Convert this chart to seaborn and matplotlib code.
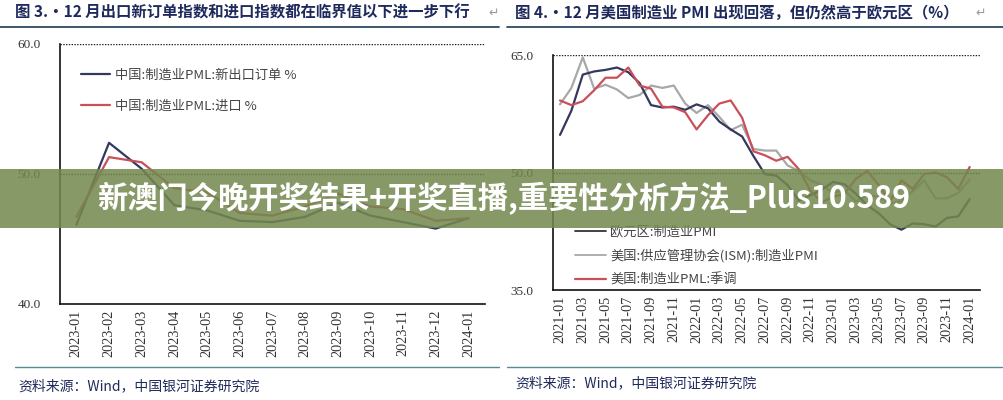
import numpy as np
import pandas as pd
import matplotlib
matplotlib.use("Agg")
import matplotlib.pyplot as plt
from matplotlib.lines import Line2D
from matplotlib.patches import Rectangle
import seaborn as sns

sns.set_theme(style="white")
CJK = ["Noto Sans CJK SC", "DejaVu Sans"]
SERIF = ["Liberation Serif", "DejaVu Serif"]
plt.rcParams["font.family"] = CJK

# ---- données ----
mois_gauche = ["2023-01", "2023-02", "2023-03", "2023-04", "2023-05", "2023-06", "2023-07",
               "2023-08", "2023-09", "2023-10", "2023-11", "2023-12", "2024-01"]
export_commandes = [46.1, 52.4, 50.4, 47.6, 47.2, 46.4, 46.3, 46.7, 47.8, 46.8, 46.3, 45.8, 46.6]
importations = [46.7, 51.3, 50.9, 48.9, 48.6, 47.0, 46.8, 47.5, 48.5, 47.5, 47.3, 46.4, 46.6]

mois_droite = [f"{a}-{m:02d}" for a in (2021, 2022, 2023) for m in range(1, 13)] + ["2024-01"]
pmi_eurozone = [54.8, 57.9, 62.5, 62.9, 63.1, 63.4, 62.8, 61.4, 58.6, 58.3, 58.4, 58.0,
                58.7, 58.2, 56.5, 55.5, 54.6, 52.1, 49.8, 49.6, 48.4, 46.4, 47.1, 47.8,
                48.8, 48.5, 47.3, 45.8, 44.8, 43.4, 42.7, 43.5, 43.4, 43.1, 44.2, 44.4,
                46.6]
pmi_ism = [58.7, 60.8, 64.7, 60.7, 61.2, 60.6, 59.5, 59.9, 61.1, 60.8, 61.1, 58.8,
           57.6, 58.6, 57.1, 55.4, 56.1, 53.0, 52.8, 52.8, 50.9, 50.2, 49.0, 48.4,
           47.4, 47.7, 46.3, 47.1, 46.9, 46.0, 46.4, 47.6, 49.0, 46.7, 46.7, 47.4,
           49.1]
pmi_us_sa = [59.2, 58.6, 59.1, 60.5, 62.1, 62.1, 63.4, 61.1, 60.7, 58.4, 58.3, 57.7,
             55.5, 57.3, 58.8, 59.2, 57.0, 52.7, 52.2, 51.5, 52.0, 50.4, 47.7, 46.2,
             46.9, 47.3, 49.2, 50.2, 48.4, 46.3, 49.0, 47.9, 49.8, 50.0, 49.4, 47.9,
             50.7]

lab_g = ["中国:制造业PML:新出口订单 %", "中国:制造业PML:进口 %"]
lab_d = ["欧元区:制造业PMI", "美国:供应管理协会(ISM):制造业PMI", "美国:制造业PML:季调"]

NAVY = "#34385e"
RED = "#c9505a"
GRAY = "#a8a8a8"
TITRE = "#1f2a5c"

fig = plt.figure(figsize=(10.04, 4.0), dpi=100)
fig.patch.set_facecolor("white")


def style_axe(ax, ticks_y, ylim, xlim):
    ax.set_ylim(*ylim)
    ax.set_xlim(*xlim)
    for s in ["top", "right"]:
        ax.spines[s].set_visible(False)
    for s in ["left", "bottom"]:
        ax.spines[s].set_color("#111111")
        ax.spines[s].set_linewidth(1.2)
    ax.set_yticks(ticks_y)
    ax.set_yticklabels([f"{v:.1f}" for v in ticks_y], fontfamily=SERIF, fontsize=9.5, color="#333333")
    ax.tick_params(axis="y", length=0, pad=14)
    ax.tick_params(axis="x", which="major", length=0, pad=4)
    ax.tick_params(axis="x", which="minor", length=4, width=1.2, direction="in", color="#111111")
    for v in ticks_y[1:]:
        ax.axhline(v, xmin=0, xmax=1, color="#222222", lw=1.0, ls=(0, (1, 1)), zorder=0)
    ax.set_xlabel("")
    ax.set_ylabel("")


# ---- panneau gauche ----
axg = fig.add_axes([0.0598, 0.24, 0.423, 0.65])
df_g = pd.DataFrame({"i": np.arange(len(mois_gauche)), "exp": export_commandes, "imp": importations})
sns.lineplot(data=df_g, x="i", y="exp", ax=axg, color=NAVY, lw=1.6)
sns.lineplot(data=df_g, x="i", y="imp", ax=axg, color=RED, lw=1.6)
style_axe(axg, [40, 50, 60], (40, 60), (-0.5, 12.45))
axg.set_xticks(np.arange(len(mois_gauche)))
axg.set_xticklabels(mois_gauche, rotation=90, fontfamily=SERIF, fontsize=10.3, color="#333333")
axg.set_xticks(np.arange(0.5, len(mois_gauche), 1), minor=True)
hg = [Line2D([0], [0], color=NAVY, lw=1.6), Line2D([0], [0], color=RED, lw=1.6)]
axg.legend(hg, lab_g, loc="upper left", bbox_to_anchor=(0.033, 0.93), frameon=False,
           fontsize=9.5, handlelength=2.2, handletextpad=0.4, labelspacing=1.35,
           borderpad=0, labelcolor="#444444")

# ---- panneau droit ----
axd = fig.add_axes([0.551, 0.275, 0.425, 0.5875])
df_d = pd.DataFrame({"i": np.arange(len(mois_droite)), "ez": pmi_eurozone, "ism": pmi_ism, "us": pmi_us_sa})
sns.lineplot(data=df_d, x="i", y="ism", ax=axd, color=GRAY, lw=1.6)
sns.lineplot(data=df_d, x="i", y="ez", ax=axd, color=NAVY, lw=1.6)
sns.lineplot(data=df_d, x="i", y="us", ax=axd, color=RED, lw=1.6)
style_axe(axd, [35, 50, 65], (35, 65), (-0.6, 36.9))
axd.set_xticks(np.arange(0, len(mois_droite), 2))
axd.set_xticklabels(mois_droite[::2], rotation=90, fontfamily=SERIF, fontsize=10.3, color="#333333")
axd.set_xticks(np.arange(1.5, len(mois_droite), 2), minor=True)
hd = [Line2D([0], [0], color="#333333", lw=1.3), Line2D([0], [0], color=GRAY, lw=1.3),
      Line2D([0], [0], color=RED, lw=1.6)]
axd.legend(hd, lab_d, loc="lower left", bbox_to_anchor=(0.035, -0.012), frameon=False,
           fontsize=9.5, handlelength=2.4, handletextpad=0.3, labelspacing=0.8,
           borderpad=0, labelcolor="#444444")

# ---- titres, filets, sources ----
fig.text(0.015, 0.968, "图 3.·12 月出口新订单指数和进口指数都在临界值以下进一步下行", fontsize=11.1,
         fontweight="bold", color=TITRE, va="center", ha="left")
fig.text(0.513, 0.968, "图 4.·12 月美国制造业 PMI 出现回落，但仍然高于欧元区（%）", fontsize=11.1,
         fontweight="bold", color=TITRE, va="center", ha="left")
fig.text(0.486, 0.966, "↵", fontsize=9, color="#999999", va="center", family=["DejaVu Sans"])
fig.text(0.972, 0.966, "↵", fontsize=9, color="#999999", va="center", family=["DejaVu Sans"])
fig.add_artist(Line2D([0.0, 0.497], [0.932, 0.932], color="#2b4a5e", lw=1.3))
fig.add_artist(Line2D([0.505, 1.0], [0.932, 0.932], color="#2b4a5e", lw=1.3))
fig.add_artist(Line2D([0.015, 0.497], [0.083, 0.083], color="#5a8a96", lw=1.0))
fig.add_artist(Line2D([0.505, 0.998], [0.083, 0.083], color="#5a8a96", lw=1.0))
fig.text(0.018, 0.035, "资料来源：Wind，中国银河证券研究院", fontsize=10, color=TITRE,
         va="center", ha="left", style="italic")
fig.text(0.513, 0.042, "资料来源：Wind，中国银河证券研究院", fontsize=10, color=TITRE,
         va="center", ha="left", style="italic")

# ---- bandeau superposé ----
fig.add_artist(Rectangle((0, 0.43), 1, 0.148, transform=fig.transFigure,
                         facecolor="#74884f", alpha=0.86, edgecolor="none", zorder=10))
fig.text(0.502, 0.503, "新澳门今晚开奖结果+开奖直播,重要性分析方法_Plus10.589", fontsize=21.8,
         fontweight="bold", color="white", ha="center", va="center", zorder=11)

fig.savefig("out.png", dpi=100, facecolor="white")
